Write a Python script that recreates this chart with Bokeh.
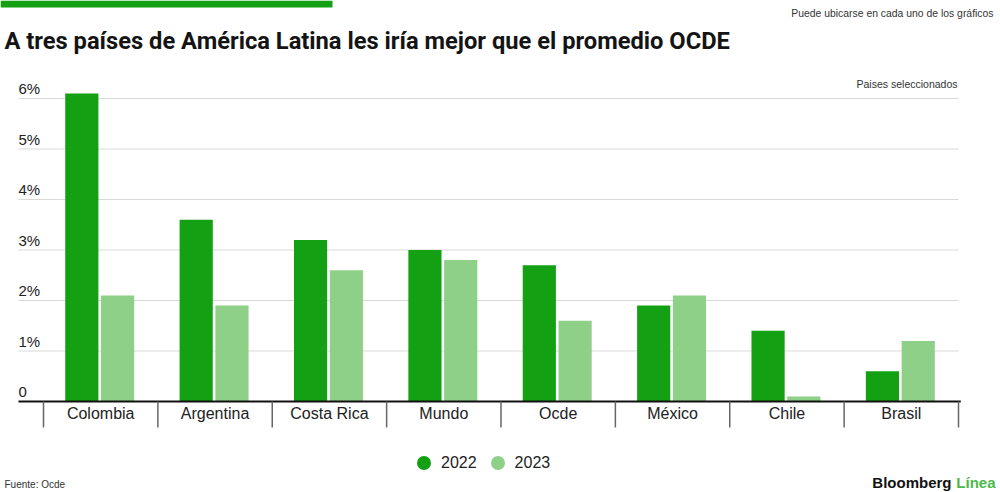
from bokeh.plotting import figure
from bokeh.models import Range1d, ColumnDataSource, Legend, LegendItem
from bokeh.core.properties import value
from bokeh.transform import dodge
from bokeh.embed import file_html
from bokeh.resources import INLINE

# data
paises = ["Colombia", "Argentina", "Costa Rica", "Mundo", "Ocde", "México", "Chile", "Brasil"]
crec_2022 = [6.1, 3.6, 3.2, 3.0, 2.7, 1.9, 1.4, 0.6]
crec_2023 = [2.1, 1.9, 2.6, 2.8, 1.6, 2.1, 0.1, 1.2]
y_ticks = [0, 1, 2, 3, 4, 5, 6]
y_tick_labels = ["0", "1%", "2%", "3%", "4%", "5%", "6%"]
years = ["2022", "2023"]

DARK = "#13a013"
LIGHT = "#8fd088"
FONT = "Liberation Sans"

W, H = 1000, 492
# canvas pixel -> data helpers (for text / decoration placement only)
CAT_W = 114.375
X0_PX = 43
ZERO_PX = 401
UNIT_PX = 50.5

def fx(px):
    return (px - X0_PX) / CAT_W - 0.5

def fy(py):
    return (ZERO_PX - py) / UNIT_PX

p = figure(width=W, height=H, output_backend="svg", toolbar_location=None,
           x_axis_location=None, y_axis_location=None,
           x_range=Range1d(fx(0), fx(W)), y_range=Range1d(fy(H), fy(0)),
           min_border=0)
p.outline_line_color = None
p.xgrid.visible = False
p.ygrid.visible = False
p.background_fill_color = "white"
p.border_fill_color = "white"

idx = list(range(len(paises)))
n = len(paises)
x_left = fx(18)

# grid lines
p.segment(x0=[x_left] * len(y_ticks), x1=[n - 0.5] * len(y_ticks), y0=y_ticks, y1=y_ticks,
          line_color="#d9d9d9", line_width=1)

# y tick labels sit above each grid line
lift = 10 / UNIT_PX
p.text(x=[x_left] * len(y_ticks), y=[t + lift for t in y_ticks], text=y_tick_labels,
       text_align="left", text_baseline="middle", text_font=value(FONT),
       text_font_size="15px", text_color="#222222")

src = ColumnDataSource(dict(x=idx, y22=crec_2022, y23=crec_2023, name=paises))
r22 = p.vbar(x=dodge("x", -0.165), top="y22", bottom=0, width=0.29, source=src,
             fill_color=DARK, line_color=None)
r23 = p.vbar(x=dodge("x", 0.148), top="y23", bottom=0, width=0.29, source=src,
             fill_color=LIGHT, line_color=None)

# baseline and category separators
p.segment(x0=[x_left], x1=[n - 0.5 + 0.02], y0=[0], y1=[0], line_color="#111111", line_width=2)
seps = [i - 0.5 for i in range(n + 1)]
p.segment(x0=seps, x1=seps, y0=[0] * len(seps), y1=[fy(427)] * len(seps),
          line_color="#666666", line_width=1.5)
p.text(x="x", y=fy(413), text="name", source=src, text_align="center",
       text_baseline="middle", text_font=value(FONT), text_font_size="16px",
       text_color="#222222")

# decorations and titles
p.quad(left=[fx(0)], right=[fx(332)], top=[fy(0)], bottom=[fy(7)], fill_color=DARK, line_color=None)
p.text(x=[fx(4)], y=[fy(40)], text=["A tres países de América Latina les iría mejor que el promedio OCDE"],
       text_align="left", text_baseline="alphabetic", text_font=value("Roboto"),
       text_font_style="bold", text_font_size="23.7px", text_color="#141414")
p.text(x=[fx(993)], y=[fy(13)], text=["Puede ubicarse en cada uno de los gráficos"],
       text_align="right", text_baseline="middle", text_font=value(FONT),
       text_font_size="10.4px", text_color="#333333")
p.text(x=[fx(957)], y=[fy(83)], text=["Paises seleccionados"],
       text_align="right", text_baseline="middle", text_font=value(FONT),
       text_font_size="10.5px", text_color="#333333")
p.text(x=[fx(4)], y=[fy(484)], text=["Fuente: Ocde"],
       text_align="left", text_baseline="middle", text_font=value(FONT),
       text_font_size="10px", text_color="#333333")
p.text(x=[fx(995)], y=[fy(482)], text=["Línea"],
       text_align="right", text_baseline="middle", text_font=value(FONT),
       text_font_style="bold", text_font_size="15px", text_color="#4cb848")
p.text(x=[fx(951)], y=[fy(482)], text=["Bloomberg"],
       text_align="right", text_baseline="middle", text_font=value(FONT),
       text_font_style="bold", text_font_size="15px", text_color="#111111")

# legend (markers carry no position, only their style)
nan = float("nan")
key = ColumnDataSource(dict(x=[nan], y=[nan]))
l22 = p.scatter(x="x", y="y", source=key, size=14, marker="circle", fill_color=DARK, line_color=None)
l23 = p.scatter(x="x", y="y", source=key, size=14, marker="circle", fill_color=LIGHT, line_color=None)
legend = Legend(items=[LegendItem(label=years[0], renderers=[l22]),
                       LegendItem(label=years[1], renderers=[l23])],
                location=(406, 12), orientation="horizontal",
                glyph_width=35, glyph_height=35, label_standoff=0, spacing=3,
                padding=0, margin=0, border_line_alpha=0, background_fill_alpha=0,
                label_text_font=FONT, label_text_font_size="16px", label_text_color="#222222")
p.add_layout(legend)

open("out.html", "w").write(file_html(p, INLINE))
